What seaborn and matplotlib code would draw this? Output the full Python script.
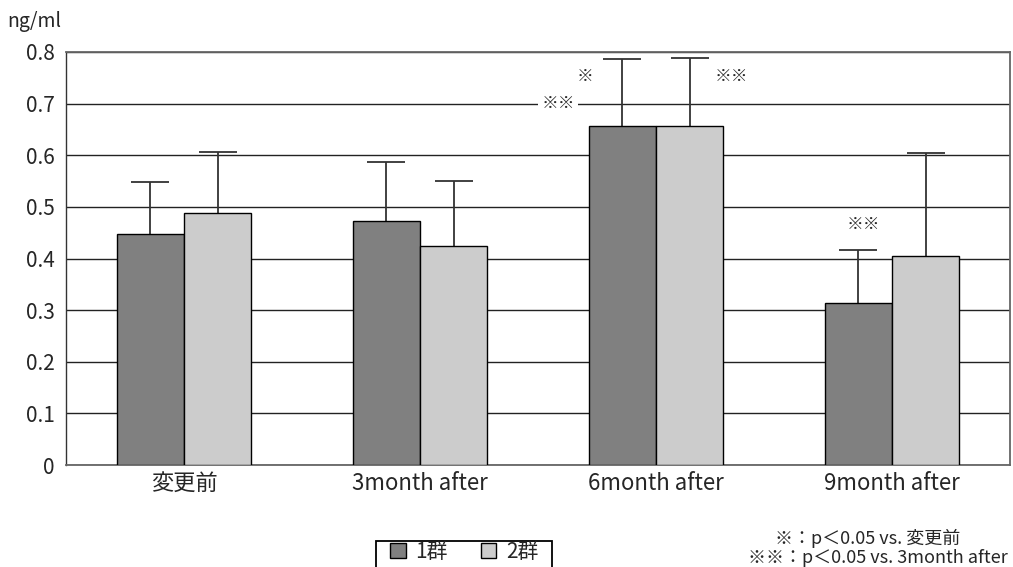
import matplotlib
matplotlib.use("Agg")
import matplotlib.pyplot as plt
from matplotlib.patches import Patch, Rectangle
from matplotlib.ticker import FixedLocator
import seaborn as sns
import pandas as pd
import numpy as np

categories = ["変更前", "3month after", "6month after", "9month after"]
groups = ["1群", "2群"]
group1_mean = [0.447, 0.472, 0.657, 0.314]
group1_sd = [0.102, 0.115, 0.130, 0.103]
group2_mean = [0.489, 0.424, 0.657, 0.405]
group2_sd = [0.117, 0.126, 0.132, 0.200]
yticks = [0, 0.1, 0.2, 0.3, 0.4, 0.5, 0.6, 0.7, 0.8]
colors = ["#808080", "#cccccc"]

df = pd.DataFrame({
    "time": categories * 2,
    "group": [groups[0]] * 4 + [groups[1]] * 4,
    "value": group1_mean + group2_mean,
})
sds = [group1_sd, group2_sd]

sns.set_theme(style="white")
plt.rcParams["font.family"] = ["Noto Sans CJK JP", "DejaVu Sans"]

fig = plt.figure(figsize=(10.13, 5.67), dpi=100)
ax = fig.add_axes([66 / 1013, 1 - 465 / 567, (1010 - 66) / 1013, (465 - 52) / 567])

sns.barplot(data=df, x="time", y="value", hue="group", order=categories,
            hue_order=groups, palette=colors, width=0.568, errorbar=None,
            edgecolor="black", linewidth=1.0, saturation=1, legend=False,
            ax=ax, zorder=3)

for cont, sd in zip(ax.containers, sds):
    for patch, s in zip(cont.patches, sd):
        xc = patch.get_x() + patch.get_width() / 2
        h = patch.get_height()
        _, caps, _ = ax.errorbar([xc], [h], yerr=[[0], [s]], fmt="none", ecolor="#333333",
                                 elinewidth=1.3, capsize=14, capthick=1.3, zorder=2)
        caps[0].set_visible(False)

ax.set_ylim(0, 0.8)
ax.set_xlim(-0.5, 3.5)
ax.set_yticks(yticks)
ax.set_yticklabels(["0" if v == 0 else f"{v:.1f}" for v in yticks])
ax.yaxis.grid(True, color="#222222", linewidth=1.0, zorder=0)
ax.set_axisbelow(True)
ax.set_xlabel("")
ax.set_ylabel("")
ax.tick_params(axis="y", length=0, labelsize=15, pad=8)
ax.tick_params(axis="x", which="major", length=0, labelsize=16, pad=5)
ax.xaxis.set_minor_locator(FixedLocator([0.5, 1.5, 2.5]))
ax.tick_params(axis="x", which="minor", direction="in", length=6, width=1, color="#333333")
for side in ["top", "right", "bottom"]:
    ax.spines[side].set_color("#666666")
    ax.spines[side].set_linewidth(1.3)
ax.spines["left"].set_color("#333333")
ax.spines["left"].set_linewidth(1.0)

# significance marks
ax.text(1.70, 0.752, "※", ha="center", va="center", fontsize=12, zorder=5)
ax.text(1.585, 0.700, "※※", ha="center", va="center", fontsize=12, zorder=5,
        bbox=dict(facecolor="white", edgecolor="none", pad=2))
ax.text(2.318, 0.752, "※※", ha="center", va="center", fontsize=12, zorder=5)
ax.text(2.88, 0.465, "※※", ha="center", va="center", fontsize=12, zorder=5)

fig.text(7 / 1013, 1 - 22 / 567, "ng/ml", ha="left", va="center", fontsize=14)

# legend frame (cut by the bottom edge, as in the source)
fig.add_artist(Rectangle((376 / 1013, -0.02), 176 / 1013, 0.02 + 26 / 567,
                         transform=fig.transFigure, facecolor="white",
                         edgecolor="black", linewidth=1.3))
handles = [Patch(facecolor=c, edgecolor="black", linewidth=1) for c in colors]
leg = fig.legend(handles, groups, loc="center",
                 bbox_to_anchor=(464 / 1013, 1 - 552 / 567),
                 ncol=2, frameon=False, fontsize=15,
                 handlelength=0.75, handleheight=0.75, handletextpad=0.45,
                 columnspacing=1.6, borderpad=0.0, borderaxespad=0)

fig.text(775 / 1013, 1 - 538 / 567, "※：p＜0.05 vs. 変更前", ha="left", va="center", fontsize=13)
fig.text(748 / 1013, 1 - 558 / 567, "※※：p＜0.05 vs. 3month after", ha="left", va="center", fontsize=13)

fig.savefig("out.png", dpi=100)
